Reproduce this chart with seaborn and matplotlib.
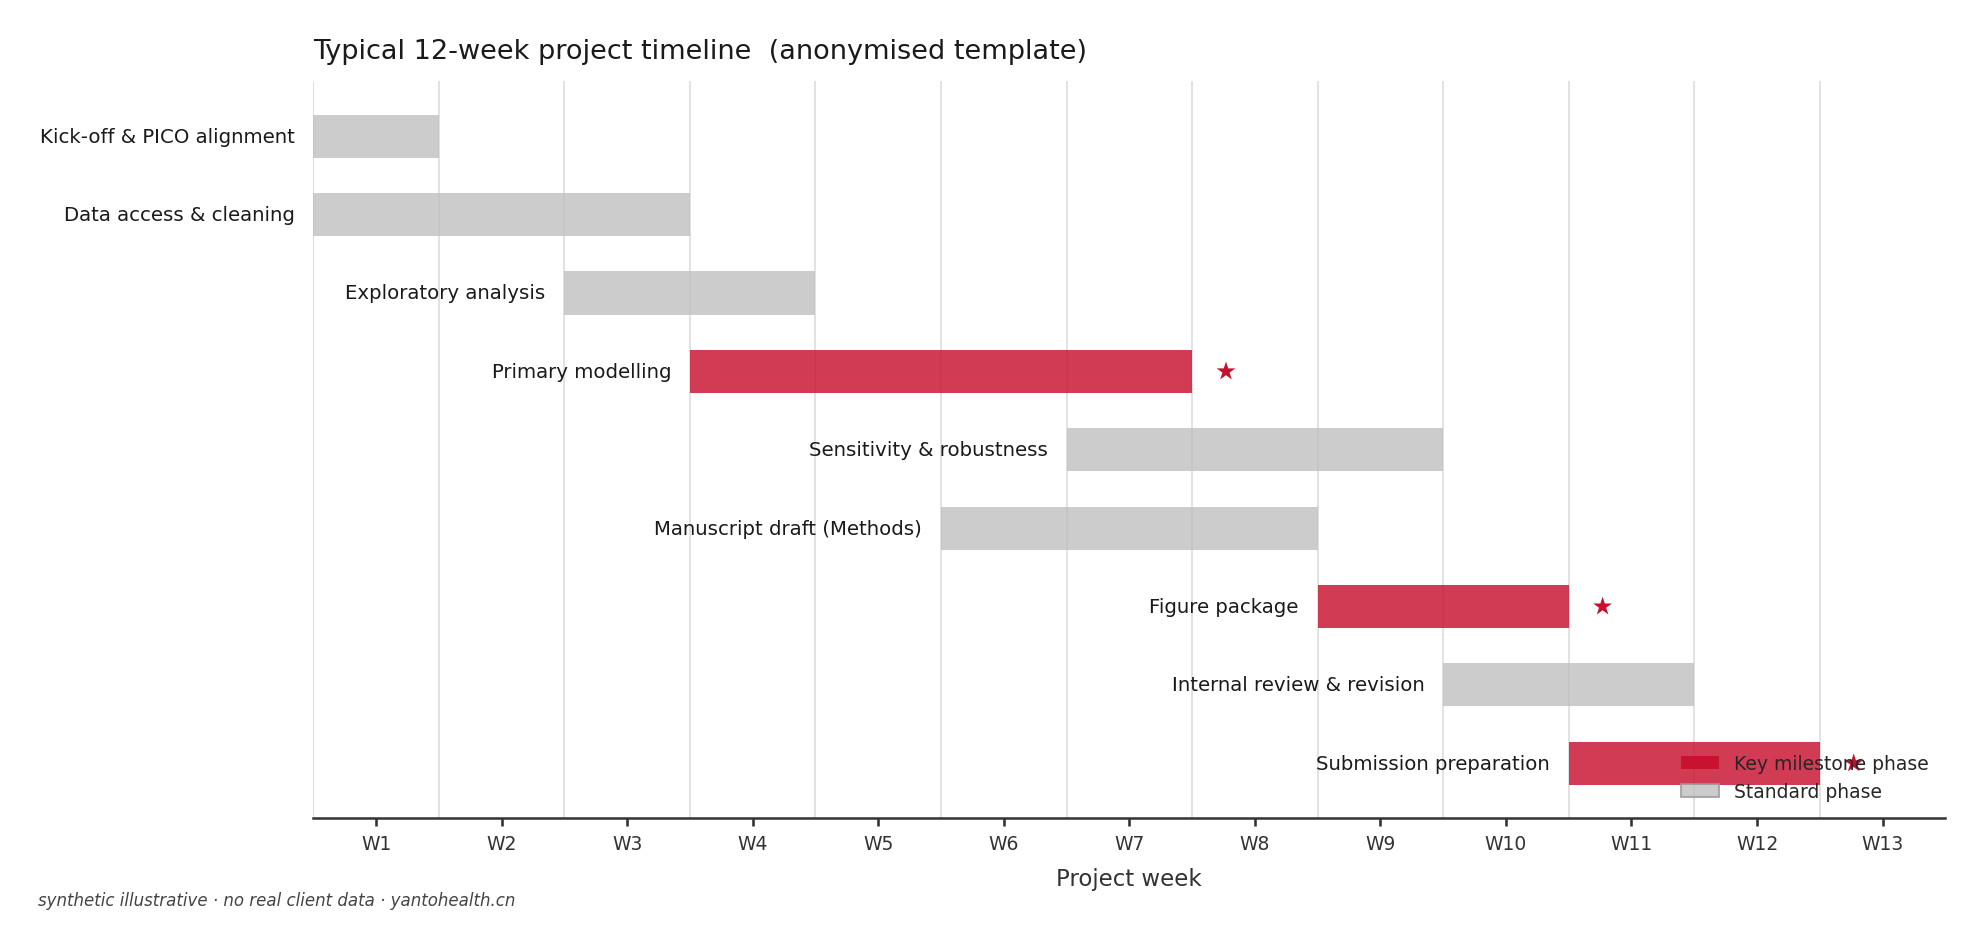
import numpy as np
import pandas as pd
import matplotlib
matplotlib.use('Agg')
import matplotlib.pyplot as plt
import seaborn as sns
from matplotlib.patches import Patch

# phases, start week and length in weeks
phases = [
    'Kick-off & PICO alignment',
    'Data access & cleaning',
    'Exploratory analysis',
    'Primary modelling',
    'Sensitivity & robustness',
    'Manuscript draft (Methods)',
    'Figure package',
    'Internal review & revision',
    'Submission preparation',
]
start_week = [1, 1, 3, 4, 7, 6, 9, 10, 11]
n_weeks = [1, 3, 2, 4, 3, 3, 2, 2, 2]
milestone = [False, False, False, True, False, False, True, False, True]
week_labels = [f'W{i}' for i in range(1, 14)]

RED = '#C8102E'
GREY = '#C0C0C0'

df = pd.DataFrame({'phase': phases, 'start': start_week, 'dur': n_weeks, 'key': milestone})
df['left'] = df['start'] - 0.5
df['end'] = df['left'] + df['dur']
df['row'] = np.arange(len(df))

sns.set_theme(style='white')
plt.rcParams['font.family'] = ['DejaVu Sans']

fig, ax = plt.subplots(figsize=(13.22, 6.313), dpi=150)
fig.subplots_adjust(left=0.158, right=0.981, top=0.913, bottom=0.135)

for _, r in df.iterrows():
    col = RED if r['key'] else GREY
    alpha = 0.82 if r['key'] else 0.8
    ax.barh(r['row'], r['dur'], left=r['left'], height=0.55,
            color=col, alpha=alpha, edgecolor='none', linewidth=0, zorder=2)
    ax.text(r['left'] - 0.15, r['row'], r['phase'], ha='right', va='center',
            fontsize=9.5, color='#1a1a1a')

stars = df[df['key']]
sns.scatterplot(x=stars['end'] + 0.27, y=stars['row'], marker='*', s=90,
                color=RED, edgecolor='none', ax=ax, zorder=3, legend=False)

ax.set_xlim(0.5, 13.5)
ax.set_ylim(len(df) - 0.3, -0.7)
ax.set_xticks(range(1, 14))
ax.set_xticklabels(week_labels, fontsize=9, color='#333333')
ax.set_xticks(np.arange(0.5, 13.5, 1.0), minor=True)
ax.set_yticks([])
ax.set_ylabel('')
ax.grid(False)
ax.grid(True, which='minor', axis='x', color='#dddddd', linewidth=0.8, zorder=0)
ax.tick_params(axis='x', which='major', length=4, color='#333333', bottom=True)
ax.tick_params(axis='x', which='minor', length=0)
for s in ['top', 'right', 'left']:
    ax.spines[s].set_visible(False)
ax.spines['bottom'].set_color('#333333')
ax.spines['bottom'].set_linewidth(1.2)

ax.set_xlabel('Project week', fontsize=11, color='#333333', labelpad=7)
ax.set_title('Typical 12-week project timeline  (anonymised template)',
             loc='left', fontsize=13, color='#1a1a1a', pad=11)

handles = [Patch(facecolor=RED, edgecolor=RED, linewidth=0, alpha=0.95, label='Key milestone phase'),
           Patch(facecolor=GREY, edgecolor='#999999', linewidth=1, alpha=0.8, label='Standard phase')]
ax.legend(handles=handles, loc='lower right', frameon=False, fontsize=9)

fig.text(0.019, 0.043, 'synthetic illustrative · no real client data · yantohealth.cn',
         fontsize=8, style='italic', color='#444444')

fig.savefig('out.png', dpi=150)
